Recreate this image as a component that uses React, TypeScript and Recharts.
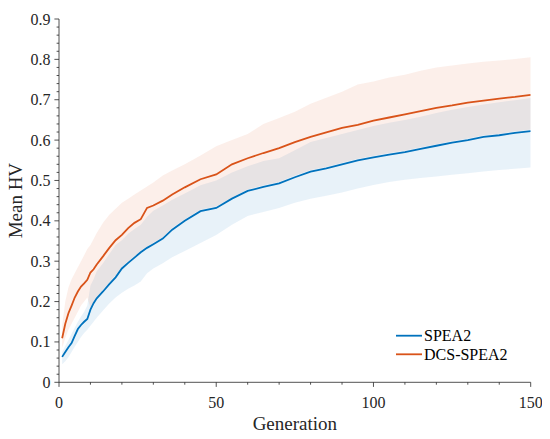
import React from 'react';
import { ComposedChart, Line, Area, XAxis, YAxis, Legend } from 'recharts';

const generations = [1, 2, 3, 4, 5, 6, 7, 8, 9, 10, 11, 12, 14, 16, 18, 20, 22, 24, 26, 28, 30, 33, 36, 40, 45, 50, 55, 60, 65, 70, 75, 80, 85, 90, 95, 100, 105, 110, 115, 120, 125, 130, 135, 140, 145, 150];

const spea2Mean = [0.063, 0.075, 0.087, 0.097, 0.115, 0.132, 0.142, 0.150, 0.157, 0.180, 0.196, 0.208, 0.225, 0.243, 0.260, 0.282, 0.296, 0.309, 0.322, 0.333, 0.342, 0.356, 0.378, 0.400, 0.424, 0.432, 0.455, 0.474, 0.484, 0.493, 0.508, 0.522, 0.530, 0.540, 0.550, 0.557, 0.564, 0.570, 0.578, 0.586, 0.594, 0.600, 0.608, 0.612, 0.618, 0.622];
const spea2Upper = [0.075, 0.09, 0.105, 0.12, 0.135, 0.15, 0.163, 0.175, 0.19, 0.24, 0.255, 0.275, 0.295, 0.318, 0.34, 0.352, 0.368, 0.38, 0.39, 0.41, 0.425, 0.438, 0.452, 0.468, 0.488, 0.5, 0.52, 0.535, 0.548, 0.555, 0.575, 0.595, 0.605, 0.615, 0.625, 0.635, 0.643, 0.65, 0.658, 0.667, 0.675, 0.682, 0.688, 0.694, 0.699, 0.704];
const spea2Lower = [0.045, 0.052, 0.062, 0.075, 0.088, 0.10, 0.112, 0.122, 0.13, 0.14, 0.15, 0.16, 0.178, 0.195, 0.21, 0.222, 0.232, 0.24, 0.25, 0.27, 0.282, 0.295, 0.31, 0.325, 0.345, 0.365, 0.39, 0.412, 0.422, 0.432, 0.445, 0.455, 0.462, 0.47, 0.48, 0.489, 0.496, 0.502, 0.506, 0.51, 0.514, 0.518, 0.522, 0.526, 0.529, 0.532];

const dcsMean = [0.109, 0.145, 0.171, 0.190, 0.210, 0.225, 0.237, 0.245, 0.254, 0.272, 0.280, 0.292, 0.312, 0.333, 0.352, 0.365, 0.382, 0.395, 0.404, 0.432, 0.438, 0.450, 0.465, 0.483, 0.503, 0.515, 0.540, 0.555, 0.568, 0.580, 0.595, 0.608, 0.619, 0.630, 0.638, 0.648, 0.656, 0.664, 0.672, 0.680, 0.686, 0.693, 0.698, 0.703, 0.707, 0.712];
const dcsUpper = [0.14, 0.20, 0.235, 0.255, 0.27, 0.285, 0.30, 0.315, 0.33, 0.34, 0.355, 0.37, 0.395, 0.415, 0.43, 0.445, 0.455, 0.465, 0.475, 0.485, 0.495, 0.512, 0.525, 0.54, 0.562, 0.585, 0.60, 0.615, 0.64, 0.655, 0.67, 0.69, 0.705, 0.72, 0.738, 0.745, 0.755, 0.762, 0.772, 0.78, 0.785, 0.79, 0.794, 0.797, 0.801, 0.805];
const dcsLower = [0.085, 0.11, 0.13, 0.145, 0.16, 0.175, 0.19, 0.2, 0.21, 0.185, 0.2, 0.212, 0.23, 0.248, 0.265, 0.287, 0.30, 0.313, 0.326, 0.337, 0.346, 0.36, 0.383, 0.404, 0.428, 0.436, 0.458, 0.478, 0.488, 0.497, 0.512, 0.526, 0.534, 0.544, 0.554, 0.561, 0.568, 0.574, 0.582, 0.59, 0.598, 0.604, 0.612, 0.616, 0.622, 0.626];

const xTicks = [0, 10, 20, 30, 40, 50, 60, 70, 80, 90, 100, 110, 120, 130, 140, 150];
const xMajor = [0, 50, 100, 150];
const yTicks = [0, 0.02, 0.04, 0.06, 0.08, 0.1, 0.12, 0.14, 0.16, 0.18, 0.2, 0.22, 0.24, 0.26, 0.28, 0.3, 0.32, 0.34, 0.36, 0.38, 0.4, 0.42, 0.44, 0.46, 0.48, 0.5, 0.52, 0.54, 0.56, 0.58, 0.6, 0.62, 0.64, 0.66, 0.68, 0.7, 0.72, 0.74, 0.76, 0.78, 0.8, 0.82, 0.84, 0.86, 0.88, 0.9];
const yMajor = [0, 0.1, 0.2, 0.3, 0.4, 0.5, 0.6, 0.7, 0.8, 0.9];

const seriesNames = ['SPEA2', 'DCS-SPEA2'];
const seriesColors = ['#0072BD', '#D95319'];

const data = generations.map((g, i) => ({
  g,
  s: spea2Mean[i],
  d: dcsMean[i],
  sBand: [spea2Lower[i], spea2Upper[i]],
  dBand: [dcsLower[i], dcsUpper[i]],
}));

const SERIF = 'Liberation Serif';
const fontStyle = { fontFamily: '"Liberation Serif"' };
const AX = '#262626';
const MAJ = 4.6;
const MIN = 2.4;

const isMajor = (v: number, majors: number[]) => majors.some((m) => Math.abs(m - v) < 1e-9);

const BottomTick = (props: any) => {
  const { x, y, payload } = props;
  const major = isMajor(payload.value, xMajor);
  return (
    <g>
      <line x1={x} x2={x} y1={y} y2={y + (major ? MAJ : MIN)} stroke={AX} strokeWidth={0.8} />
      {major && (
        <text x={x} y={y + 25.5} textAnchor="middle" fontFamily={SERIF} style={fontStyle} fontSize={16} fill="#262626">
          {String(payload.value)}
        </text>
      )}
    </g>
  );
};

const TopTick = (props: any) => {
  const { x, y, payload } = props;
  const major = isMajor(payload.value, xMajor);
  return <line x1={x} x2={x} y1={y} y2={y - (major ? MAJ : MIN)} stroke={AX} strokeWidth={0.8} />;
};

const LeftTick = (props: any) => {
  const { x, y, payload } = props;
  const major = isMajor(payload.value, yMajor);
  return (
    <g>
      <line x1={x - (major ? MAJ : MIN)} x2={x} y1={y} y2={y} stroke={AX} strokeWidth={0.8} />
      {major && (
        <text x={x - 8.5} y={y + 5.5} textAnchor="end" fontFamily={SERIF} style={fontStyle} fontSize={16} fill="#262626">
          {String(payload.value)}
        </text>
      )}
    </g>
  );
};

const RightTick = (props: any) => {
  const { x, y, payload } = props;
  const major = isMajor(payload.value, yMajor);
  return <line x1={x} x2={x + (major ? MAJ : MIN)} y1={y} y2={y} stroke={AX} strokeWidth={0.8} />;
};

const LegendContent = (props: any) => {
  const payload = (props.payload || []).filter((p: any) => p.type !== 'none');
  const entries = seriesNames.map((n, i) => {
    const found = payload.find((p: any) => p.value === n);
    return { name: n, color: found ? found.color : seriesColors[i] };
  });
  return (
    <svg width={130} height={42} style={{ display: 'block', fontFamily: '"Liberation Serif"' }}>
      {entries.map((e: any, i: number) => (
        <g key={e.name}>
          <line x1={8} x2={34} y1={10.7 + i * 18.6} y2={10.7 + i * 18.6} stroke={e.color} strokeWidth={1.8} />
          <text x={36} y={16.2 + i * 18.6} fontFamily={SERIF} style={fontStyle} fontSize={16} fill="#000">
            {e.name}
          </text>
        </g>
      ))}
    </svg>
  );
};

const XLabel = (props: any) => {
  const vb = props.viewBox || { x: 51, y: 374, width: 472, height: 40 };
  return (
    <text x={vb.x + vb.width / 2} y={vb.y + 48} textAnchor="middle" fontFamily={SERIF} style={fontStyle} fontSize={19} fill="#262626">
      Generation
    </text>
  );
};

const YLabel = (props: any) => {
  const vb = props.viewBox || { x: 0, y: 11, width: 51, height: 363 };
  const cx = vb.x + 14;
  const cy = vb.y + vb.height / 2;
  return (
    <text x={cx} y={cy} transform={`rotate(-90 ${cx} ${cy})`} textAnchor="middle" fontFamily={SERIF} style={fontStyle} fontSize={19} fill="#262626">
      Mean HV
    </text>
  );
};

export default function App() {
  return (
    <div style={{ width: 542, height: 431, position: 'relative', fontFamily: '"Liberation Serif"' }}>
      <ComposedChart
        width={542}
        height={431}
        data={data}
        margin={{ top: 11, right: 19.3, bottom: 16.7, left: 0 }}
        style={{ fontFamily: '"Liberation Serif"' }}
      >
        <XAxis
          dataKey="g"
          type="number"
          domain={[0, 150]}
          ticks={xTicks}
          interval={0}
          tickSize={0}
          tickMargin={0}
          tickLine={false}
          tick={BottomTick}
          axisLine={{ stroke: AX, strokeWidth: 0.8 }}
          height={40}
          allowDataOverflow
          label={<XLabel />}
        />
        <XAxis
          xAxisId="top"
          orientation="top"
          dataKey="g"
          type="number"
          domain={[0, 150]}
          ticks={xTicks}
          interval={0}
          tickSize={0}
          tickMargin={0}
          tickLine={false}
          tick={TopTick}
          axisLine={{ stroke: AX, strokeWidth: 0.8 }}
          height={0}
          allowDataOverflow
        />
        <YAxis
          type="number"
          domain={[0, 0.9]}
          ticks={yTicks}
          interval={0}
          tickSize={0}
          tickMargin={0}
          tickLine={false}
          tick={LeftTick}
          axisLine={{ stroke: AX, strokeWidth: 0.8 }}
          width={51}
          allowDataOverflow
          label={<YLabel />}
        />
        <YAxis
          yAxisId="right"
          orientation="right"
          type="number"
          domain={[0, 0.9]}
          ticks={yTicks}
          interval={0}
          tickSize={0}
          tickMargin={0}
          tickLine={false}
          tick={RightTick}
          axisLine={{ stroke: AX, strokeWidth: 0.8 }}
          width={0}
          allowDataOverflow
        />
        <Area
          type="linear"
          dataKey="sBand"
          fill={seriesColors[0]}
          fillOpacity={0.09}
          stroke="none"
          dot={false}
          activeDot={false}
          legendType="none"
          isAnimationActive={false}
        />
        <Area
          type="linear"
          dataKey="dBand"
          fill={seriesColors[1]}
          fillOpacity={0.09}
          stroke="none"
          dot={false}
          activeDot={false}
          legendType="none"
          isAnimationActive={false}
        />
        <Line type="linear" dataKey="s" name={seriesNames[0]} stroke={seriesColors[0]} strokeWidth={1.8} dot={false} activeDot={false} isAnimationActive={false} />
        <Line type="linear" dataKey="d" name={seriesNames[1]} stroke={seriesColors[1]} strokeWidth={1.8} dot={false} activeDot={false} isAnimationActive={false} />
        <Legend
          layout="vertical"
          align="center"
          verticalAlign="middle"
          content={<LegendContent />}
          wrapperStyle={{ position: 'absolute', left: 380, top: 317, width: 130, height: 42 }}
        />
      </ComposedChart>
    </div>
  );
}
